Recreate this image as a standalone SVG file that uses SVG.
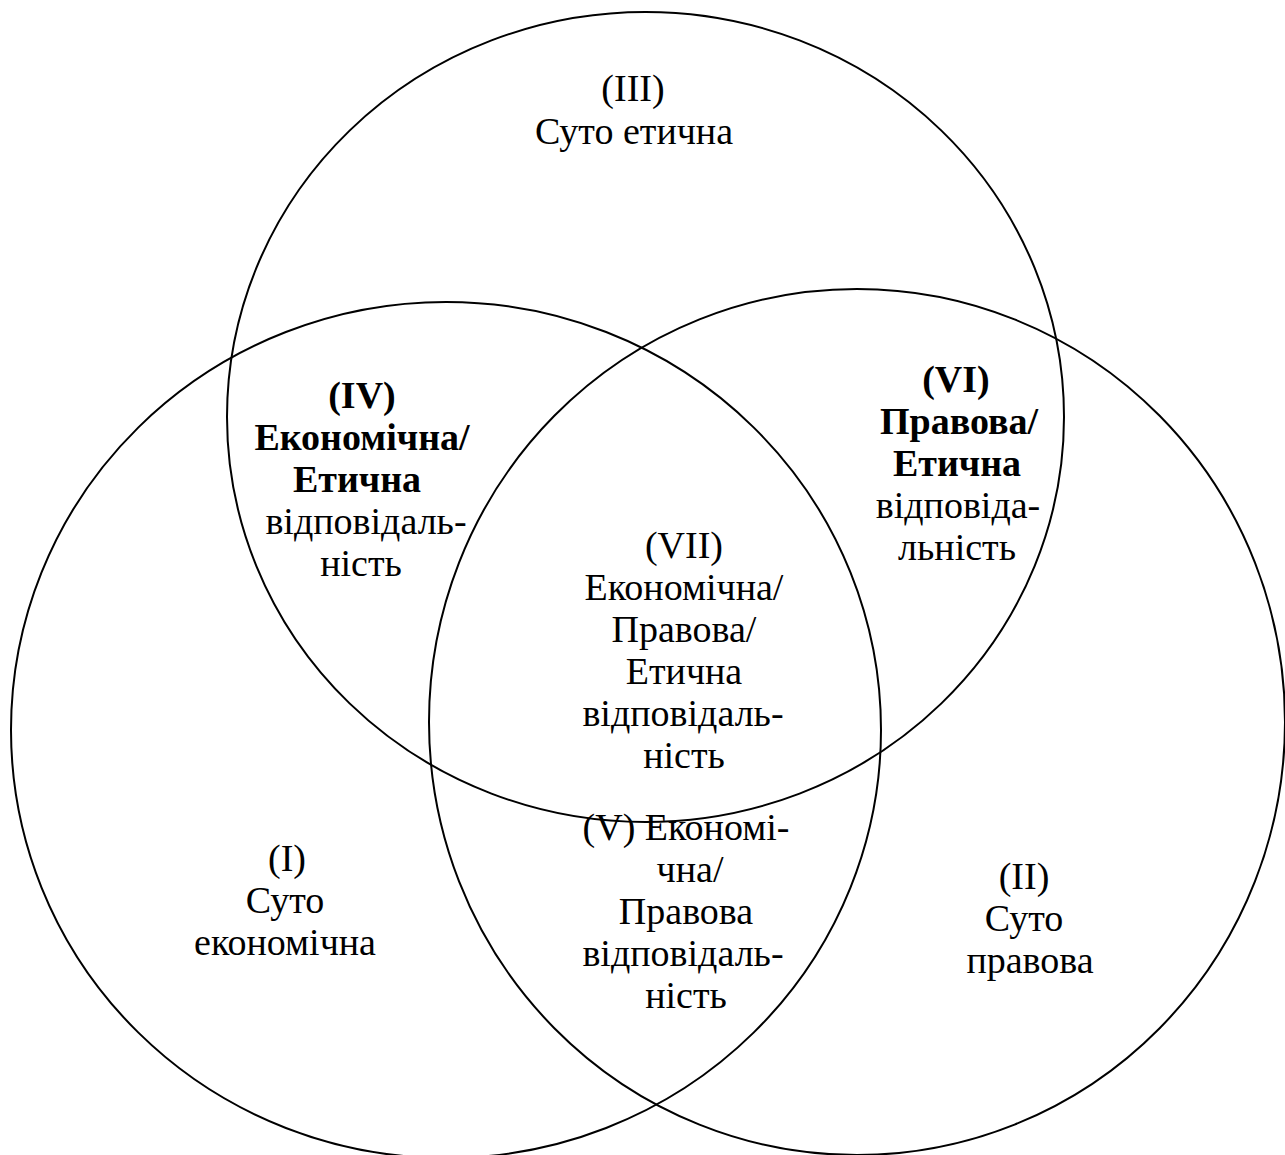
<svg xmlns="http://www.w3.org/2000/svg" width="1285" height="1155" viewBox="0 0 1285 1155">
<style>
.c{fill:none;stroke:#000;stroke-width:2}
text{font-family:"Liberation Serif","Times New Roman",serif;font-size:38px;fill:#000;text-anchor:middle}
.b{font-weight:bold}
</style>
<rect width="1285" height="1155" fill="#fff"/>
<g id="connectors"></g>
<g id="circle-top"><ellipse class="c" cx="645.5" cy="417" rx="418.5" ry="405"/></g>
<g id="circle-left"><ellipse class="c" cx="446" cy="730" rx="435" ry="428"/></g>
<g id="circle-right"><ellipse class="c" cx="857" cy="722" rx="428" ry="433"/></g>
<g id="region-III">
<text x="633" y="101">(III)</text>
<text x="634" y="144">Суто етична</text>
</g>
<g id="region-IV">
<text class="b" x="362" y="408">(IV)</text>
<text class="b" x="362" y="450">Економічна/</text>
<text class="b" x="357" y="492">Етична</text>
<text x="366" y="534">відповідаль-</text>
<text x="361" y="576">ність</text>
</g>
<g id="region-VI">
<text class="b" x="956" y="392">(VI)</text>
<text class="b" x="959" y="434">Правова/</text>
<text class="b" x="957" y="476">Етична</text>
<text x="958" y="518">відповіда-</text>
<text x="957" y="560">льність</text>
</g>
<g id="region-VII">
<text x="684" y="558">(VII)</text>
<text x="684" y="600">Економічна/</text>
<text x="684" y="642">Правова/</text>
<text x="684" y="684">Етична</text>
<text x="683" y="726">відповідаль-</text>
<text x="684" y="768">ність</text>
</g>
<g id="region-I">
<text x="287" y="871">(I)</text>
<text x="285" y="913">Суто</text>
<text x="285" y="955">економічна</text>
</g>
<g id="region-V">
<text x="686" y="840">(V) Економі-</text>
<text x="690" y="882">чна/</text>
<text x="686" y="924">Правова</text>
<text x="683" y="966">відповідаль-</text>
<text x="686" y="1008">ність</text>
</g>
<g id="region-II">
<text x="1024" y="889">(II)</text>
<text x="1024" y="931">Суто</text>
<text x="1030" y="973">правова</text>
</g>
</svg>
